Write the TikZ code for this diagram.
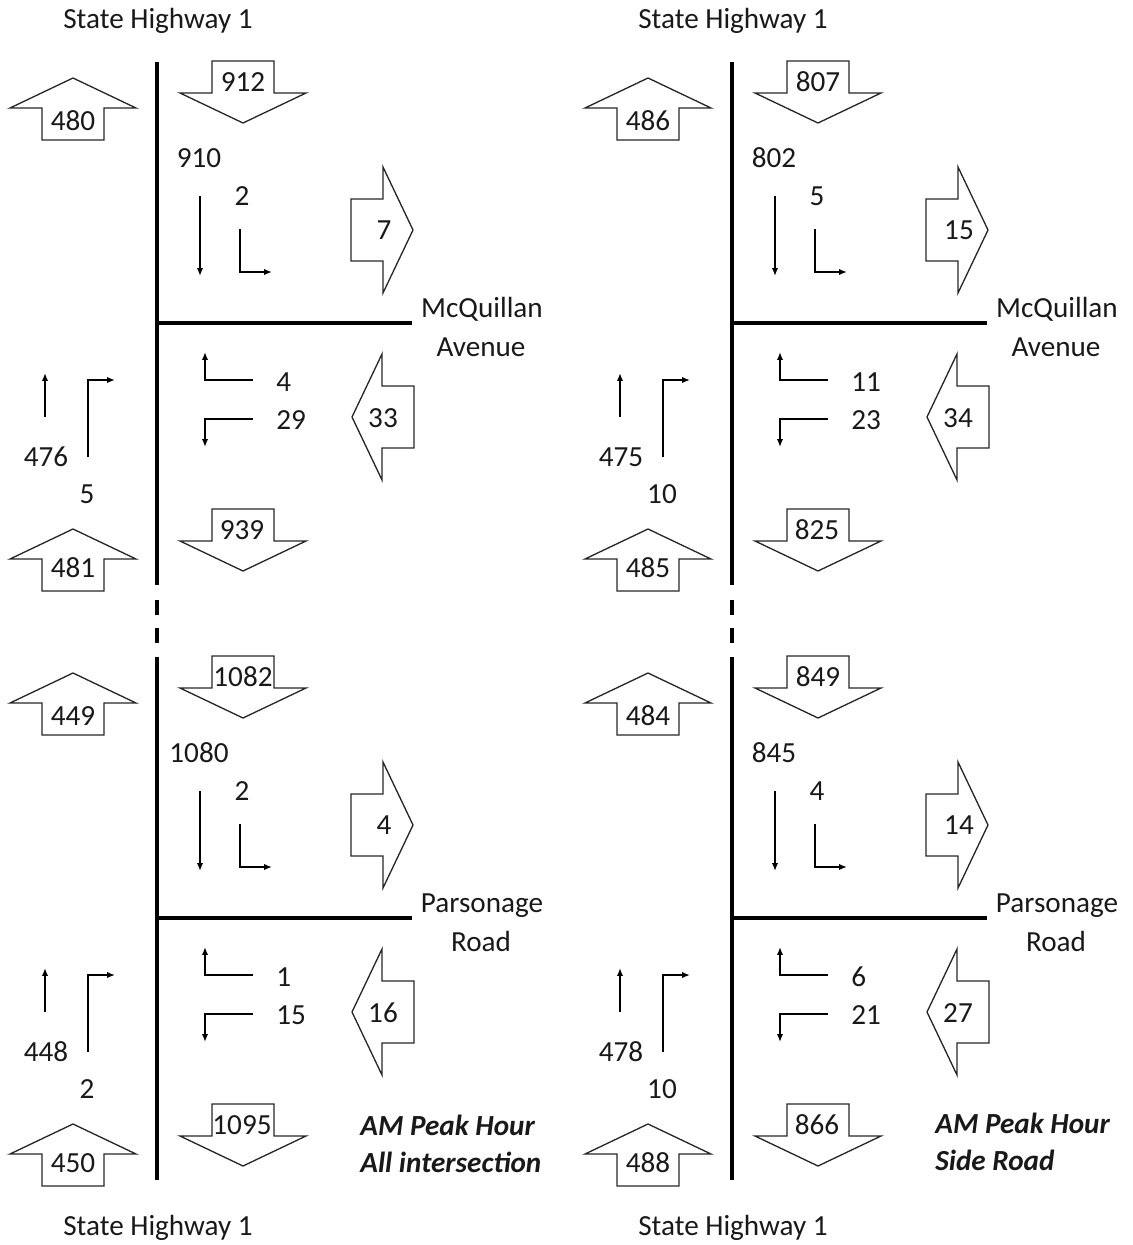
\documentclass[tikz,border=0pt]{standalone}
\usepackage{fontspec}
\setmainfont{Carlito}
\usetikzlibrary{arrows.meta}

\tikzset{
  % block arrow pointing up, tip at the origin
  pics/flow/.style={code={
    \draw[blockarr] (0,0) -- (63,30) -- (31,30) -- (31,62) -- (-31,62) -- (-31,30) -- (-63,30) -- cycle;
  }},
  % one T junction, origin where the roads meet
  pics/junction/.style={code={
    \draw[road] (0,-261) -- (0,262);
    \draw[road] (0,0) -- (255,0);
    % link volumes
    \pic at (-84,-245) {flow};
    \pic[rotate=180] at (86,-200) {flow};
    \pic[rotate=-90] at (256,-93) {flow};
    \pic[rotate=90] at (195,94) {flow};
    \pic at (-84,206) {flow};
    \pic[rotate=180] at (86,248) {flow};
    % turning movements
    \draw[move] (43,-127) -- (43,-47);
    \draw[move] (83,-94) |- (115,-51);
    \draw[move] (96,57) -| (48,29);
    \draw[move] (96,96) -| (48,124);
    \draw[move] (-112,94) -- (-112,50);
    \draw[move] (-69,134) |- (-42,57);
    % spots for the counts
    \coordinate (-nbout) at (-84,-202);
    \coordinate (-sbin) at (86,-241);
    \coordinate (-sbthru) at (42,-165);
    \coordinate (-sbturn) at (85,-127);
    \coordinate (-ebout) at (227,-93);
    \coordinate (-wbup) at (119,59);
    \coordinate (-wbdown) at (119,97);
    \coordinate (-wbin) at (226,95);
    \coordinate (-nbthru) at (-111,134);
    \coordinate (-nbturn) at (-70,171);
    \coordinate (-nbin) at (-84,245);
    \coordinate (-sbout) at (85,207);
  }}
}

\begin{document}
\begin{tikzpicture}[
    x=0.02cm, y=-0.02cm,
    font=\fontsize{16.6}{20}\selectfont,
    every node/.style={inner sep=0pt, text=black!90},
    road/.style={line width=2.5pt},
    blockarr/.style={draw=black!85, line width=0.75pt, line join=miter},
    move/.style={line width=0.85pt, -{Latex[length=4.5pt,width=3.6pt]}},
    hwy/.style={anchor=base},
    note/.style={anchor=base west, font=\fontsize{16.6}{20}\selectfont\bfseries\itshape}
  ]
    \useasboundingbox (0,0) rectangle (1133,1245);

    % Highway labels
    \node[hwy] (hwyTL) at (158,28) {State Highway 1};
    \node[hwy] (hwyBL) at (158,1235) {State Highway 1};
    \node[hwy] (hwyTR) at (733,28) {State Highway 1};
    \node[hwy] (hwyBR) at (733,1235) {State Highway 1};

    % Gaps in the highway between the two junctions
    \draw[road] (157,600) -- (157,615);
    \draw[road] (157,628) -- (157,643);
    \draw[road] (732,600) -- (732,615);
    \draw[road] (732,628) -- (732,643);

    % McQuillan Avenue, all intersection
    \pic (mqa) at (157,323) {junction};
    \node (mqa-nbout-n) at (mqa-nbout) {480};
    \node (mqa-sbin-n) at (mqa-sbin) {912};
    \node (mqa-sbthru-n) at (mqa-sbthru) {910};
    \node (mqa-sbturn-n) at (mqa-sbturn) {2};
    \node (mqa-ebout-n) at (mqa-ebout) {7};
    \node[anchor=west] (mqa-wbup-n) at (mqa-wbup) {4};
    \node[anchor=west] (mqa-wbdown-n) at (mqa-wbdown) {29};
    \node (mqa-wbin-n) at (mqa-wbin) {33};
    \node (mqa-nbthru-n) at (mqa-nbthru) {476};
    \node (mqa-nbturn-n) at (mqa-nbturn) {5};
    \node (mqa-nbin-n) at (mqa-nbin) {481};
    \node (mqa-sbout-n) at (mqa-sbout) {939};
    \node[anchor=base] (mqa-name1) at (482,317) {McQuillan};
    \node[anchor=base] (mqa-name2) at (481,356) {Avenue};

    % McQuillan Avenue, side road
    \pic (mqs) at (732,323) {junction};
    \node (mqs-nbout-n) at (mqs-nbout) {486};
    \node (mqs-sbin-n) at (mqs-sbin) {807};
    \node (mqs-sbthru-n) at (mqs-sbthru) {802};
    \node (mqs-sbturn-n) at (mqs-sbturn) {5};
    \node (mqs-ebout-n) at (mqs-ebout) {15};
    \node[anchor=west] (mqs-wbup-n) at (mqs-wbup) {11};
    \node[anchor=west] (mqs-wbdown-n) at (mqs-wbdown) {23};
    \node (mqs-wbin-n) at (mqs-wbin) {34};
    \node (mqs-nbthru-n) at (mqs-nbthru) {475};
    \node (mqs-nbturn-n) at (mqs-nbturn) {10};
    \node (mqs-nbin-n) at (mqs-nbin) {485};
    \node (mqs-sbout-n) at (mqs-sbout) {825};
    \node[anchor=base] (mqs-name1) at (1057,317) {McQuillan};
    \node[anchor=base] (mqs-name2) at (1056,356) {Avenue};

    % Parsonage Road, all intersection
    \pic (pra) at (157,918) {junction};
    \node (pra-nbout-n) at (pra-nbout) {449};
    \node (pra-sbin-n) at (pra-sbin) {1082};
    \node (pra-sbthru-n) at (pra-sbthru) {1080};
    \node (pra-sbturn-n) at (pra-sbturn) {2};
    \node (pra-ebout-n) at (pra-ebout) {4};
    \node[anchor=west] (pra-wbup-n) at (pra-wbup) {1};
    \node[anchor=west] (pra-wbdown-n) at (pra-wbdown) {15};
    \node (pra-wbin-n) at (pra-wbin) {16};
    \node (pra-nbthru-n) at (pra-nbthru) {448};
    \node (pra-nbturn-n) at (pra-nbturn) {2};
    \node (pra-nbin-n) at (pra-nbin) {450};
    \node (pra-sbout-n) at (pra-sbout) {1095};
    \node[anchor=base] (pra-name1) at (482,912) {Parsonage};
    \node[anchor=base] (pra-name2) at (481,951) {Road};

    % Parsonage Road, side road
    \pic (prs) at (732,918) {junction};
    \node (prs-nbout-n) at (prs-nbout) {484};
    \node (prs-sbin-n) at (prs-sbin) {849};
    \node (prs-sbthru-n) at (prs-sbthru) {845};
    \node (prs-sbturn-n) at (prs-sbturn) {4};
    \node (prs-ebout-n) at (prs-ebout) {14};
    \node[anchor=west] (prs-wbup-n) at (prs-wbup) {6};
    \node[anchor=west] (prs-wbdown-n) at (prs-wbdown) {21};
    \node (prs-wbin-n) at (prs-wbin) {27};
    \node (prs-nbthru-n) at (prs-nbthru) {478};
    \node (prs-nbturn-n) at (prs-nbturn) {10};
    \node (prs-nbin-n) at (prs-nbin) {488};
    \node (prs-sbout-n) at (prs-sbout) {866};
    \node[anchor=base] (prs-name1) at (1057,912) {Parsonage};
    \node[anchor=base] (prs-name2) at (1056,951) {Road};

    % Period notes
    \node[note] (noteA1) at (360,1135) {AM Peak Hour};
    \node[note] (noteA2) at (360,1172) {All intersection};
    \node[note] (noteS1) at (935,1133) {AM Peak Hour};
    \node[note] (noteS2) at (935,1170) {Side Road};
\end{tikzpicture}
\end{document}
